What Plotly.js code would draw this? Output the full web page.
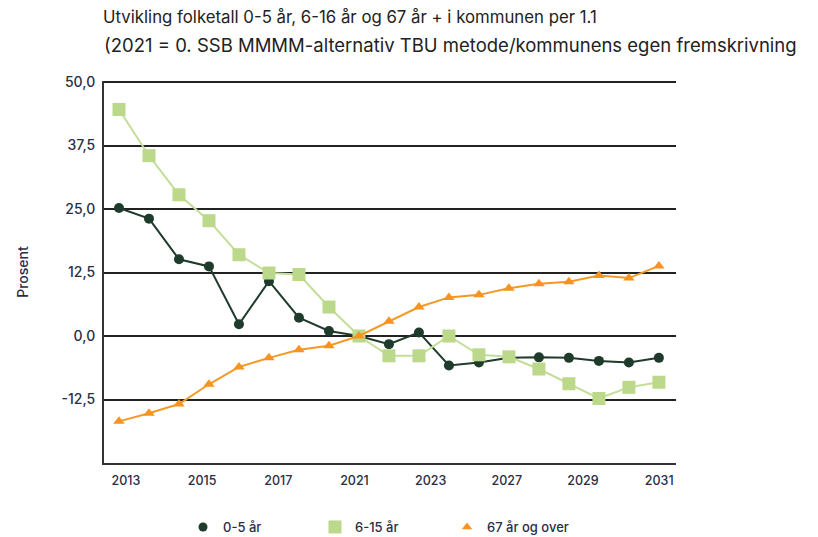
<!DOCTYPE html>
<html>
<head>
<meta charset="utf-8">
<script src="https://cdn.plot.ly/plotly-3.0.1.min.js"></script>
<style>html,body{margin:0;padding:0;background:#fff;}#chart{width:818px;height:537px;}</style>
</head>
<body>
<div id="chart"></div>
<script>
var years = [2013,2014,2015,2016,2017,2018,2019,2020,2021,2022,2023,2024,2025,2026,2027,2028,2029,2030,2031];
var age0to5 = [25.2,23.1,15.1,13.7,2.3,10.8,3.6,1.0,0,-1.6,0.7,-5.8,-5.2,-4.3,-4.2,-4.3,-4.9,-5.2,-4.3];
var age6to15 = [44.6,35.5,27.8,22.7,16.0,12.4,12.1,5.7,0,-3.9,-3.9,0,-3.7,-4.1,-6.5,-9.4,-12.3,-10.1,-9.1];
var age67plus = [-16.8,-15.2,-13.4,-9.5,-6.1,-4.3,-2.7,-1.9,0,2.9,5.7,7.6,8.1,9.4,10.3,10.7,11.9,11.4,13.8];
var seriesNames = ['0-5 år','6-15 år','67 år og over'];
var xTickText = ['2013','2015','2017','2021','2023','2027','2029','2031'];
var yTickVals = [-12.5,0,12.5,25,37.5,50];
var yTickText = ['-12,5','0,0','12,5','25,0','37,5','50,0'];

var xTickVals = xTickText.map(function(_, i){ return 2013.23 + i * 2.54; });
var textColor = '#2b2d45';
var font = 'Inter, Open Sans, sans-serif';
var colors = ['#1f3b2b', '#bcd88a', '#f7931e'];
var lineColors = ['#1f3b2b', '#c3de98', '#f39a26'];
var symbols = ['circle', 'square', 'triangle-up'];
var plotSizes = [10, 13, 10];
var legendSizes = [9, 13, 9];
var data = [age0to5, age6to15, age67plus];

var traces = [];
data.forEach(function(vals, i){
  traces.push({x: years, y: vals, name: seriesNames[i], type: 'scatter', mode: 'lines+markers',
    showlegend: false, line: {color: lineColors[i], width: 2},
    marker: {symbol: symbols[i], size: plotSizes[i], color: colors[i]}});
});
data.forEach(function(vals, i){
  traces.push({x: [null], y: [null], name: seriesNames[i], type: 'scatter', mode: 'markers',
    showlegend: true, marker: {symbol: symbols[i], size: legendSizes[i], color: colors[i]}});
});

var layout = {
  width: 818, height: 537,
  paper_bgcolor: '#ffffff', plot_bgcolor: '#ffffff',
  margin: {l: 104, r: 142, t: 81, b: 74, autoexpand: false},
  font: {family: font, color: textColor},
  title: {text: 'Utvikling folketall 0-5 år, 6-16 år og 67 år + i kommunen per 1.1',
          xref: 'container', yref: 'container', x: 103/818, xanchor: 'left',
          y: 1 - 17/537, yanchor: 'middle', font: {size: 16.8, color: '#222222', family: font}},
  annotations: [{text: '(2021 = 0. SSB MMMM-alternativ TBU metode/kommunens egen fremskrivning',
          xref: 'paper', yref: 'paper', x: (102-104)/572, xanchor: 'left',
          y: 1 + (81-45)/382, yanchor: 'middle', showarrow: false,
          font: {size: 18.5, color: '#222222', family: font}}],
  xaxis: {
    range: [2012.5, 2031.57], tickmode: 'array', tickvals: xTickVals, ticktext: xTickText,
    showgrid: false, zeroline: false, showline: true, linecolor: '#333333', linewidth: 2,
    ticks: '', tickfont: {size: 12.5, color: textColor, family: font, weight: 500}, ticklabelstandoff: 5
  },
  yaxis: {
    range: [-25, 50.2], tickmode: 'array', tickvals: yTickVals, ticktext: yTickText,
    showgrid: true, gridcolor: '#222222', gridwidth: 2, zeroline: false,
    showline: true, linecolor: '#333333', linewidth: 2, ticks: '',
    tickfont: {size: 14, color: textColor, family: font, weight: 500}, ticklabelstandoff: 4,
    title: {text: 'Prosent', standoff: 30, font: {size: 14, color: textColor, family: font, weight: 500}}
  },
  showlegend: true,
  legend: {orientation: 'h', x: (183-104)/572, xanchor: 'left', y: -(527-463)/382, yanchor: 'middle',
           font: {size: 13, color: textColor, family: font, weight: 500}, entrywidth: 87, entrywidthmode: 'pixels'}
};

Plotly.newPlot('chart', traces, layout, {displayModeBar: false, staticPlot: true});
</script>
</body>
</html>
